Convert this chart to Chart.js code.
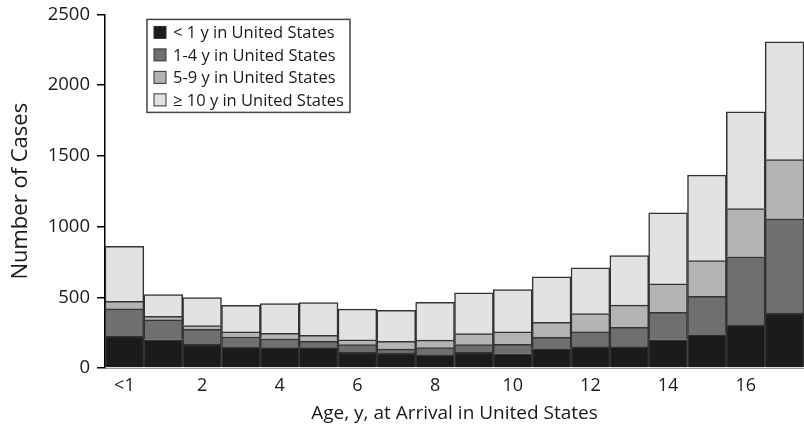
<!DOCTYPE html>
<html>
<head>
<meta charset="utf-8">
<script src="https://cdn.jsdelivr.net/npm/chart.js@4/dist/chart.umd.min.js"></script>
<style>
  html, body { margin: 0; padding: 0; background: #fff; }
</style>
</head>
<body>
<canvas id="tbChart" width="804" height="425"></canvas>
<script>
// age at arrival categories
const ageLabels = ["<1", "1", "2", "3", "4", "5", "6", "7", "8", "9", "10", "11", "12", "13", "14", "15", "16", "17"];

// cases by years lived in the US
const lessThan1 = [224, 200, 170, 146, 144, 144, 113, 106, 91, 113, 101, 137, 149, 149, 200, 236, 302, 389];
const oneToFour = [194, 140, 104, 73, 62, 44, 52, 28, 53, 52, 67, 80, 106, 139, 194, 271, 484, 666];
const fiveToNine = [54, 25, 26, 36, 39, 43, 35, 54, 53, 78, 87, 106, 130, 156, 201, 253, 342, 418];
const tenPlus = [389, 154, 198, 188, 210, 231, 216, 219, 268, 288, 300, 321, 323, 351, 502, 604, 684, 833];

const seriesNames = ["< 1 y in United States", "1-4 y in United States", "5-9 y in United States", "\u2265 10 y in United States"];
const yTicks = [0, 500, 1000, 1500, 2000, 2500];

const FONT = '"Open Sans", sans-serif';
const TEXT = "#1a1a1a";

// legend drawn inside the plot, with a frame like the original
const insideLegend = {
  id: "insideLegend",
  afterDraw(chart) {
    const { ctx, chartArea } = chart;
    const x = chartArea.left + 42;
    const y = chartArea.top + 5;
    const rowH = 22.5;
    ctx.save();
    ctx.font = "16.5px " + FONT;
    let maxW = 0;
    chart.data.datasets.forEach(ds => { maxW = Math.max(maxW, ctx.measureText(ds.label).width); });
    const w = 26 + maxW + 6;
    const h = rowH * chart.data.datasets.length + 3;
    ctx.fillStyle = "#fff";
    ctx.fillRect(x, y, w, h);
    ctx.lineWidth = 1.5;
    ctx.strokeStyle = "#444";
    ctx.strokeRect(x, y, w, h);
    ctx.textBaseline = "middle";
    chart.data.datasets.forEach((ds, i) => {
      const cy = y + 13 + i * rowH;
      ctx.fillStyle = ds.backgroundColor;
      ctx.fillRect(x + 7, cy - 6, 12, 12);
      ctx.lineWidth = 1;
      ctx.strokeStyle = "#333";
      ctx.strokeRect(x + 7, cy - 6, 12, 12);
      ctx.fillStyle = TEXT;
      ctx.fillText(ds.label, x + 26, cy + 1);
    });
    ctx.restore();
  }
};

const ctx = document.getElementById("tbChart").getContext("2d");
const tbChart = new Chart(ctx, {
  type: "bar",
  data: {
    labels: ageLabels,
    datasets: [
      { label: seriesNames[0], data: lessThan1, backgroundColor: "#1b1b1b" },
      { label: seriesNames[1], data: oneToFour, backgroundColor: "#6f6f6f" },
      { label: seriesNames[2], data: fiveToNine, backgroundColor: "#b4b4b4" },
      { label: seriesNames[3], data: tenPlus, backgroundColor: "#e2e2e2" },
    ],
  },
  options: {
    responsive: false,
    animation: false,
    layout: { padding: { top: 4, right: 0, bottom: 0, left: 0 } },
    datasets: {
      bar: {
        barPercentage: 1,
        categoryPercentage: 1,
        borderWidth: 1.5,
        borderColor: "#333",
      },
    },
    plugins: {
      legend: { display: false },
      tooltip: { enabled: false },
    },
    scales: {
      x: {
        stacked: true,
        grid: { display: false },
        border: { display: true, color: "#999", width: 1 },
        ticks: {
          autoSkip: false,
          maxRotation: 0,
          padding: 0,
          color: TEXT,
          font: { family: FONT, size: 18, lineHeight: 1.1 },
          callback: (v, i) => (i % 2 === 0 ? ageLabels[i] : ""),
        },
        title: {
          display: true,
          text: "Age, y, at Arrival in United States",
          color: TEXT,
          font: { family: FONT, size: 19 },
          padding: { top: 0, bottom: 0 },
        },
        afterFit: s => { s.height = 57; },
      },
      y: {
        stacked: true,
        min: 0,
        max: 2500,
        afterBuildTicks: s => { s.ticks = yTicks.map(v => ({ value: v })); },
        grid: { drawOnChartArea: false, drawTicks: true, tickLength: 8, color: "#000", lineWidth: 1.5 },
        border: { display: true, color: "#000", width: 1.5 },
        ticks: {
          padding: 7,
          color: TEXT,
          font: { family: FONT, size: 18.5, lineHeight: 0.8 },
          callback: v => String(v),
        },
        title: {
          display: true,
          text: "Number of Cases",
          color: TEXT,
          font: { family: FONT, size: 22 },
          padding: { top: 8, bottom: 0 },
        },
        afterFit: s => { s.width = 105; },
      },
    },
  },
  plugins: [insideLegend],
});
</script>
</body>
</html>
